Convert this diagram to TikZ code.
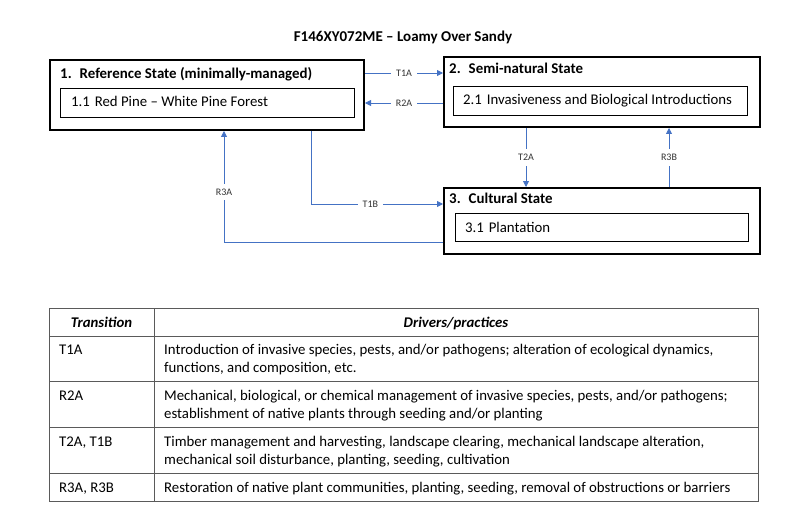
\documentclass[tikz,border=0pt]{standalone}
\usepackage{fontspec}
\setmainfont{Carlito}
\usetikzlibrary{arrows.meta}
\definecolor{lnblue}{HTML}{4472C4}
\definecolor{tblgray}{HTML}{5A5A5A}
\begin{document}
\begin{tikzpicture}[x=1pt,y=-1pt,
 outerbox/.style={draw=black,line width=2pt,anchor=north west,inner sep=0pt},
 innerbox/.style={draw=black,line width=1.2pt,anchor=north west,inner sep=0pt},
 ttl/.style={font=\fontsize{14.9}{17}\selectfont\bfseries,anchor=base west,inner sep=0pt},
 sub/.style={font=\fontsize{14.8}{17}\selectfont,anchor=base west,inner sep=0pt},
 conn/.style={draw=lnblue,line width=0.8pt},
 arr/.style={conn,-{Triangle[length=6pt,width=6pt]}},
 lbl/.style={font=\fontsize{10}{12}\selectfont,text=black!80,fill=white,inner sep=5pt},
 cell/.style={font=\fontsize{14.8}{17.9}\selectfont,anchor=base west,inner sep=0pt,align=left},
 head/.style={font=\fontsize{14.8}{17.9}\selectfont\bfseries\itshape,anchor=base,inner sep=0pt},
 tline/.style={draw=tblgray,line width=0.9pt},
]
\useasboundingbox (0,0) rectangle (800,516);
\node[font=\fontsize{15}{18}\selectfont\bfseries,anchor=base,inner sep=0pt] (title) at (403,42) {F146XY072ME – Loamy Over Sandy};

% state boxes
\node[outerbox,minimum width=314,minimum height=70] (s1) at (49,59) {};
\node[innerbox,minimum width=294,minimum height=29] (s1i) at (60,88) {};
\node[ttl] (s1t) at (60,79) {1.\hspace{8pt}Reference State (minimally-managed)};
\node[sub] (s1s) at (71,107) {1.1\hspace{1.5pt} Red Pine – White Pine Forest};

\node[outerbox,minimum width=316,minimum height=70] (s2) at (443,56) {};
\node[innerbox,minimum width=294,minimum height=29] (s2i) at (453,86) {};
\node[ttl] (s2t) at (449,74) {2.\hspace{8pt}Semi-natural State};
\node[sub] (s2s) at (463,105) {2.1\hspace{1.5pt} Invasiveness and Biological Introductions};

\node[outerbox,minimum width=316,minimum height=66] (s3) at (443,187) {};
\node[innerbox,minimum width=293,minimum height=28] (s3i) at (455,213) {};
\node[ttl] (s3t) at (449,203) {3.\hspace{8pt}Cultural State};
\node[sub] (s3s) at (465,232) {3.1\hspace{1.5pt} Plantation};

% connectors
\coordinate (yT1A) at (0,73);
\coordinate (yR2A) at (0,103);
\coordinate (xT2A) at (526,0);
\coordinate (xR3B) at (669,0);
\coordinate (xT1B) at (311,0);
\coordinate (xR3A) at (224,0);
\coordinate (bT1B) at (311,204);
\coordinate (bR3A) at (224,242);

\draw[arr] (s1.east |- yT1A) -- node[lbl] (lT1A) {T1A} (s2.west |- yT1A);
\draw[arr] (s2.west |- yR2A) -- node[lbl] (lR2A) {R2A} (s1.east |- yR2A);
\draw[arr] (s2.south -| xT2A) -- node[lbl] (lT2A) {T2A} (s3.north -| xT2A);
\draw[arr] (s3.north -| xR3B) -- node[lbl] (lR3B) {R3B} (s2.south -| xR3B);
\draw[arr] (s1.south -| xT1B) -- (bT1B) -- node[lbl,pos=0.45] (lT1B) {T1B} (s3.west |- bT1B);
\draw[arr] (s3.west |- bR3A) -- (bR3A) -- node[lbl,pos=0.45] (lR3A) {R3A} (s1.south -| xR3A);

% table
\draw[tline] (49,308) rectangle (758,501);
\draw[tline] (154,308) -- (154,501);
\draw[tline] (49,336) -- (758,336);
\draw[tline] (49,381) -- (758,381);
\draw[tline] (49,427) -- (758,427);
\draw[tline] (49,473) -- (758,473);

\node[head] (hT) at (101.5,327) {Transition};
\node[head] (hD) at (456,327) {Drivers/practices};

% multi-line cells: base anchor sits on the last line
\node[cell] (c1a) at (59,354) {T1A};
\node[cell] (c1b) at (164,372) {Introduction of invasive species, pests, and/or pathogens; alteration of ecological dynamics,\\functions, and composition, etc.};
\node[cell] (c2a) at (59,400) {R2A};
\node[cell] (c2b) at (164,418) {Mechanical, biological, or chemical management of invasive species, pests, and/or pathogens;\\establishment of native plants through seeding and/or planting};
\node[cell] (c3a) at (59,446) {T2A, T1B};
\node[cell] (c3b) at (164,464) {Timber management and harvesting, landscape clearing, mechanical landscape alteration,\\mechanical soil disturbance, planting, seeding, cultivation};
\node[cell] (c4a) at (59,492) {R3A, R3B};
\node[cell] (c4b) at (164,492) {Restoration of native plant communities, planting, seeding, removal of obstructions or barriers};
\end{tikzpicture}
\end{document}
